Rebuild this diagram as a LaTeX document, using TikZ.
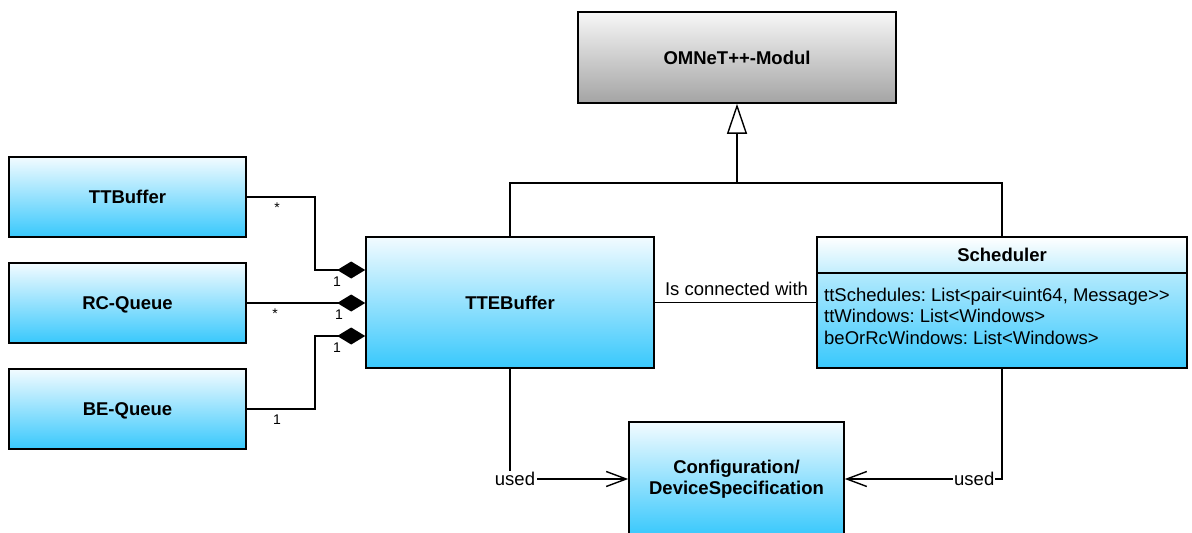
\documentclass[tikz,border=0pt]{standalone}
\usepackage{fontspec}
\setmainfont{Liberation Sans}
\usetikzlibrary{arrows.meta,shadows}
\definecolor{skytop}{HTML}{F2FBFF}
\definecolor{skybot}{HTML}{38C8FC}
\definecolor{headbot}{HTML}{C2EEFD}
\definecolor{bodytop}{HTML}{E2F7FE}
\definecolor{greytop}{HTML}{F7F7F7}
\definecolor{greybot}{HTML}{A4A4A4}
\frenchspacing
\begin{document}
\begin{tikzpicture}[x=1pt,y=-1pt,
  classbox/.style={draw=black, line width=1.6pt, rectangle, inner sep=0pt,
    top color=skytop, bottom color=skybot, align=center,
    font=\bfseries\fontsize{18.5}{21.5}\selectfont,
    drop shadow={shadow xshift=1.3pt, shadow yshift=-1.3pt, fill=black!40, opacity=0.5}},
  greybox/.style={classbox, top color=greytop, bottom color=greybot},
  link/.style={line width=1.4pt, black},
  comp/.style={link, -{Diamond[length=28pt,width=17pt]}},
  inherit/.style={link, -{Triangle[length=30pt,width=20pt,fill=white]}},
  uses/.style={link, -{Straight Barb[length=20pt,width=15pt]}},
  mult/.style={font=\fontsize{14}{16}\selectfont, inner sep=0pt},
  plain/.style={font=\fontsize{18.5}{21.5}\selectfont, inner sep=0pt}]

\clip (0,0) rectangle (1192,533);

% classes
\node[greybox, minimum width=318pt, minimum height=91pt] (omnet) at (737,57.5) {OMNeT++-Modul};
\node[classbox, minimum width=237pt, minimum height=80pt] (ttb) at (127.5,197) {TTBuffer};
\node[classbox, text depth=0pt, minimum width=237pt, minimum height=80pt] (rcq) at (127.5,303) {RC-Queue};
\node[classbox, text depth=0pt, minimum width=237pt, minimum height=80pt] (beq) at (127.5,409) {BE-Queue};
\node[classbox, minimum width=288pt, minimum height=131pt] (tte) at (510,302.5) {TTEBuffer};
\node[classbox, top color=bodytop, minimum width=370pt, minimum height=131pt] (sched) at (1002,302.5) {};
\node[classbox, drop shadow={opacity=0}, top color=white, bottom color=headbot,
      minimum width=370pt, minimum height=36pt, anchor=north] (schedhead) at (sched.north) {Scheduler};
\node[plain, anchor=west, align=left] (schedattr) at (824,316)
  {ttSchedules: List<pair<uint64, Message>{}>\\ttWindows: List<Windows>\\beOrRcWindows: List<Windows>};
\node[classbox, minimum width=215pt, minimum height=114pt] (cfg) at (736.5,479)
  {Configuration/\\DeviceSpecification};

% generalization
\coordinate (gen) at (737,183);
\draw[link] (tte.north) |- (gen) -| (sched.north);
\draw[inherit] (gen) -- (omnet.south);

% compositions
\draw[comp] (ttb.east) -- (315,197) -- (315,270) -- (tte.west |- 0,270);
\draw[comp] (rcq.east) -- (rcq.east -| tte.west);
\draw[comp] (beq.east) -- (315,409) -- (315,336) -- (tte.west |- 0,336);

\node[mult] (m1a) at (277,208) {*};
\node[mult] (m1b) at (337,282) {1};
\node[mult] (m2a) at (275,314) {*};
\node[mult] (m2b) at (339,315) {1};
\node[mult] (m3a) at (337,348) {1};
\node[mult] (m3b) at (277,420) {1};

% association
\draw[link] (tte.east) -- node[plain, above=6pt, xshift=1pt] (assoc) {Is connected with} (sched.west);

% dependencies
\draw[uses] (tte.south) |- (cfg.west)
  node[plain, pos=0.5, xshift=5pt, fill=white, inner sep=1.5pt] (usedl) {used};
\draw[uses] (sched.south) |- (cfg.east)
  node[plain, pos=0.5, anchor=east, xshift=-6pt, fill=white, inner sep=1pt] (usedr) {used};
\end{tikzpicture}
\end{document}
